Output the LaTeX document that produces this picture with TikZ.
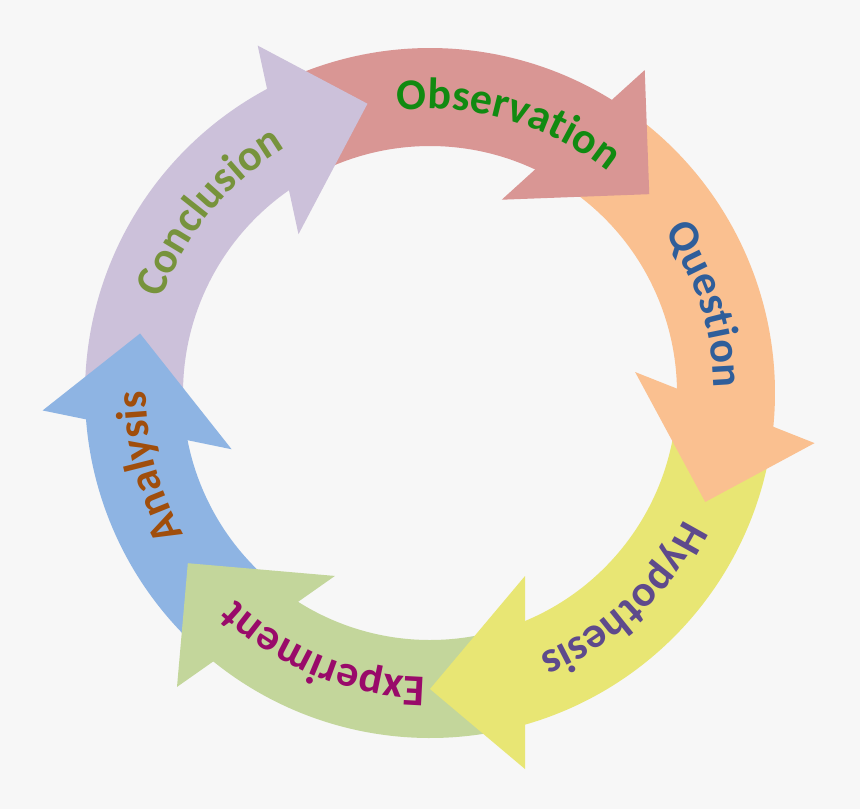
\documentclass[tikz,border=0pt]{standalone}
\usepackage{fontspec}
\setmainfont{Carlito}
\usetikzlibrary{calc,decorations.text}
\definecolor{bgcol}{HTML}{F7F7F7}
\definecolor{obscol}{HTML}{D99694}
\definecolor{quecol}{HTML}{FAC090}
\definecolor{hypcol}{HTML}{E8E674}
\definecolor{expcol}{HTML}{C3D69B}
\definecolor{anacol}{HTML}{8EB4E3}
\definecolor{concol}{HTML}{CCC1DA}
\definecolor{obstxt}{HTML}{118A11}
\definecolor{quetxt}{HTML}{2F5E9A}
\definecolor{hyptxt}{HTML}{5E4A8C}
\definecolor{exptxt}{HTML}{990A6A}
\definecolor{anatxt}{HTML}{A04E0C}
\definecolor{contxt}{HTML}{77933C}
\newcommand{\lblfont}{\fontsize{22}{26}\selectfont\bfseries}

\begin{document}
\begin{tikzpicture}[x=0.5pt,y=0.5pt,
  lbl/.style 2 args={decorate,decoration={text along path,text align=center,text color=#1,text={|\lblfont|#2}}}
]
\fill[bgcol] (-430,-416) rectangle (430,393);
\foreach \s/\e/\c in {115.2/57.2/obscol,55.2/-6.6/quecol,-8.6/-75/hypcol,-77/-129.9/expcol,-131.9/-176.6/anacol,-178.6/-242.8/concol}
  \fill[\c] (\s:345) arc[start angle=\s,end angle=\e,radius=345] -- (\e:247) arc[start angle=\e,end angle=\s,radius=247] -- cycle;
\foreach \tp/\c in {42.2/obscol,-21.6/quecol,-90/hypcol,-144.9/expcol,168.4/anacol,102.2/concol}
  \fill[\c] (\tp:296) -- ($(\tp:376)+({\tp+90}:95)$) -- ($(\tp:183)+({\tp+90}:95)$) -- cycle;
\path[lbl={obstxt}{Observation}] (123.85:284) arc[start angle=123.85,end angle=23.85,radius=284];
\path[lbl={quetxt}{Question}] (67.8:284) arc[start angle=67.8,end angle=-32.2,radius=284];
\path[lbl={hyptxt}{Hypothesis}] (3.1:284) arc[start angle=3.1,end angle=-96.9,radius=284];
\path[lbl={exptxt}{Experiment}] (-62.1:284) arc[start angle=-62.1,end angle=-162.1,radius=284];
\path[lbl={anatxt}{Analysis}] (244.7:284) arc[start angle=244.7,end angle=144.7,radius=284];
\path[lbl={contxt}{Conclusion}] (190.6:284) arc[start angle=190.6,end angle=90.6,radius=284];
\end{tikzpicture}
\end{document}
